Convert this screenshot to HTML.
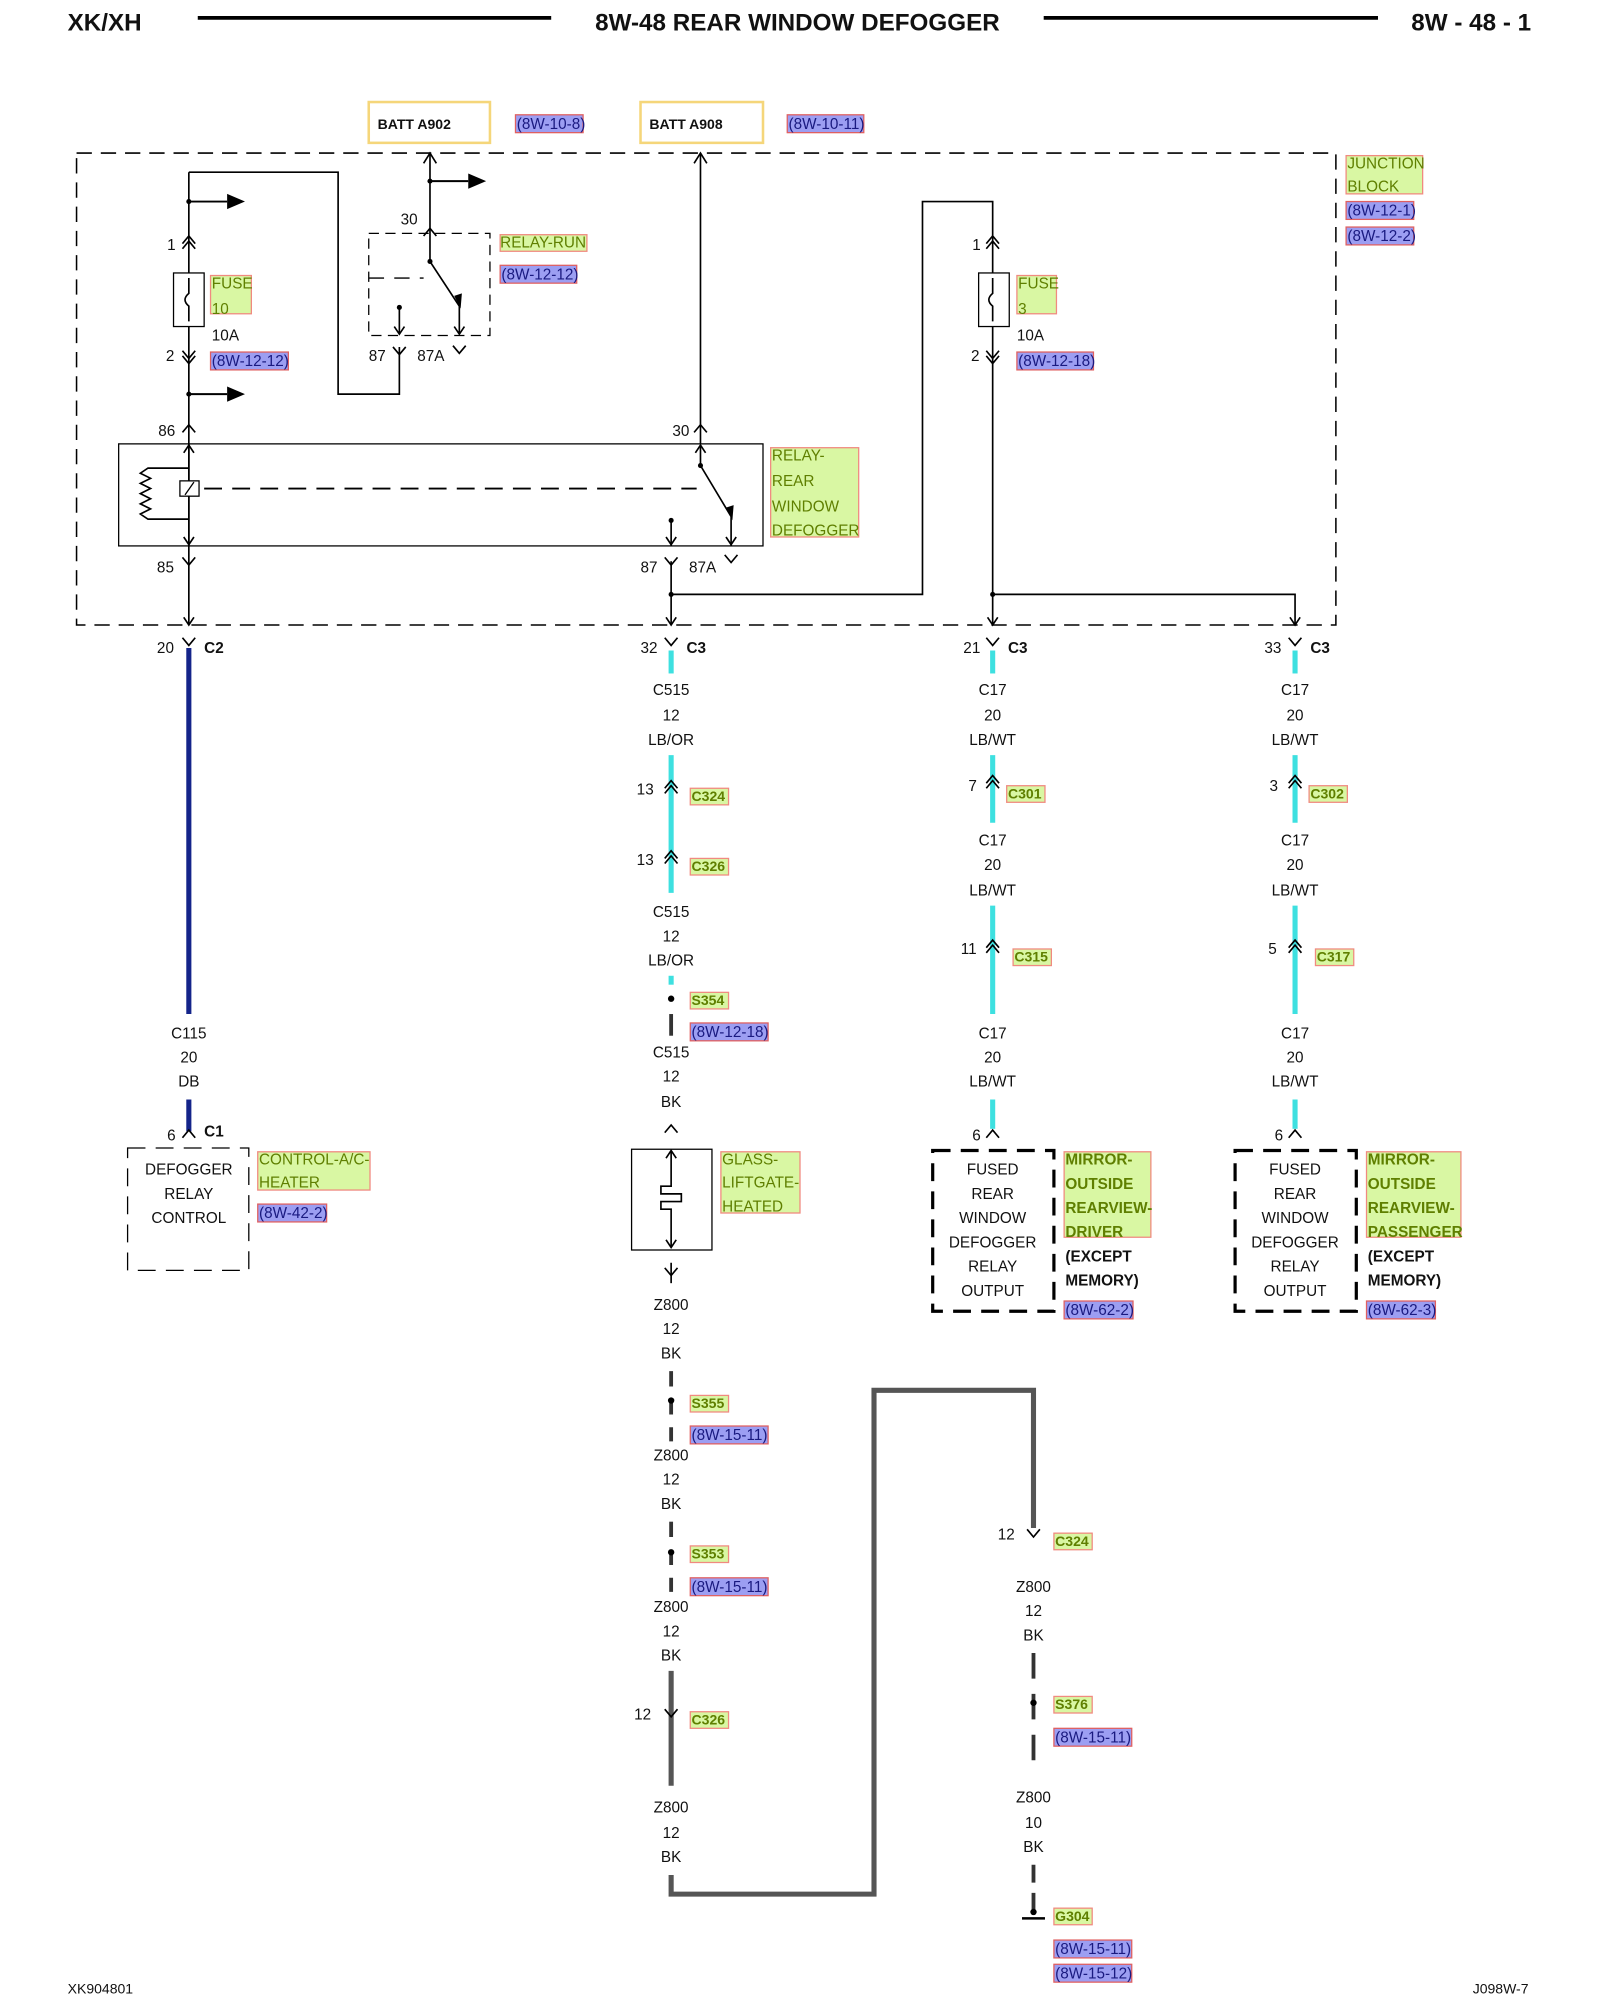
<!DOCTYPE html>
<html><head><meta charset="utf-8"><style>
html,body{margin:0;padding:0;background:#fff}
svg{display:block}
text{font-family:"Liberation Sans",sans-serif;font-size:12px;fill:#111}
.b{font-weight:bold}
.g{fill:#d9f7a3;stroke:#f08a80;stroke-width:1}
.gt{fill:#5f7f00;font-size:12px}
.r{fill:#9c9ef2;stroke:#e06060;stroke-width:1}
.rt{fill:#1a1a80;font-size:12px}
.w{stroke:#000;stroke-width:1.3;fill:none}
.cy{stroke:#3ee0e0;stroke-width:4;fill:none}
.gr{stroke:#555;stroke-width:4;fill:none}
</style></head><body>
<svg width="1600" height="2000" viewBox="0 0 1254 1568" preserveAspectRatio="none" xmlns="http://www.w3.org/2000/svg">
<defs>
<g id="up"><path d="M-5,6 L0,0 L5,6" class="w"/></g>
<g id="dn"><path d="M-5,-6 L0,0 L5,-6" class="w"/></g>
<g id="up2"><path d="M-5,6 L0,0 L5,6 M-5,10 L0,4 L5,10" class="w"/></g>
<g id="dn2"><path d="M-5,-6 L0,0 L5,-6 M-5,-10 L0,-4 L5,-10" class="w"/></g>
<g id="arr"><line x1="0" y1="0" x2="30" y2="0" stroke="#000" stroke-width="1.5"/><path d="M30,-6 L44,0 L30,6 Z" fill="#000"/><circle r="2" fill="#000"/></g>
</defs>
<!-- header -->
<text x="53" y="24" class="b" style="font-size:19px">XK/XH</text>
<line x1="155" y1="14" x2="432" y2="14" stroke="#000" stroke-width="3"/>
<text x="625" y="24" class="b" text-anchor="middle" style="font-size:19px">8W-48 REAR WINDOW DEFOGGER</text>
<line x1="818" y1="14" x2="1080" y2="14" stroke="#000" stroke-width="3"/>
<text x="1200" y="24" class="b" text-anchor="end" style="font-size:19px">8W - 48 - 1</text>

<!-- batt boxes -->
<rect x="289" y="80" width="95" height="32" fill="#fff" stroke="#f5d67a" stroke-width="2"/>
<text x="296" y="101" class="b" style="font-size:11px">BATT A902</text>
<rect x="404" y="90" width="53" height="14" class="r"/><text x="405" y="101" class="rt">(8W-10-8)</text>
<rect x="502" y="80" width="96" height="32" fill="#fff" stroke="#f5d67a" stroke-width="2"/>
<text x="509" y="101" class="b" style="font-size:11px">BATT A908</text>
<rect x="617" y="90" width="60" height="14" class="r"/><text x="618" y="101" class="rt">(8W-10-11)</text>

<!-- junction block -->
<rect x="60" y="120" width="987" height="370" fill="none" stroke="#000" stroke-width="1.2" stroke-dasharray="12,7"/>
<rect x="1055" y="122" width="60" height="30" class="g"/>
<text x="1056" y="132" class="gt">JUNCTION</text><text x="1056" y="150" class="gt">BLOCK</text>
<rect x="1055" y="158" width="53" height="14" class="r"/><text x="1056" y="169" class="rt">(8W-12-1)</text>
<rect x="1055" y="178" width="53" height="14" class="r"/><text x="1056" y="189" class="rt">(8W-12-2)</text>

<!-- left fuse 10 -->
<path d="M148,135 L265,135 L265,309 L313,309 L313,272" class="w" stroke-width="2"/>
<line x1="148" y1="135" x2="148" y2="490" class="w"/>
<use href="#arr" x="148" y="158"/>
<use href="#up2" x="148" y="185"/><text x="131" y="196">1</text>
<rect x="136" y="214" width="24" height="42" fill="#fff" stroke="#000"/>
<path d="M148,218 L148,230 Q142,235 148,240 L148,252" class="w"/>
<rect x="165" y="216" width="32" height="30" class="g"/><text x="166" y="226" class="gt">FUSE</text><text x="166" y="246" class="gt">10</text>
<text x="166" y="267">10A</text>
<use href="#dn2" x="148" y="285"/><text x="130" y="283">2</text>
<rect x="165" y="276" width="61" height="14" class="r"/><text x="166" y="287" class="rt">(8W-12-12)</text>
<use href="#arr" x="148" y="309"/>
<use href="#up" x="148" y="333"/><text x="124" y="342">86</text>

<!-- relay run -->
<line x1="337" y1="120" x2="337" y2="183" class="w"/>
<path d="M332,128 L337,120 L342,128" class="w"/>
<use href="#arr" x="337" y="142"/>
<use href="#up" x="337" y="179"/><text x="314" y="176">30</text>
<rect x="289" y="183" width="95" height="80" fill="none" stroke="#000" stroke-dasharray="8,5"/>
<path d="M337,183 L337,205 L360,240 L360,262" class="w"/><circle cx="337" cy="205" r="2"/>
<path d="M356,232 L361,242 L362,230 Z" fill="#000"/>
<line x1="289" y1="218" x2="332" y2="218" stroke="#000" stroke-dasharray="12,8"/>
<line x1="313" y1="241" x2="313" y2="262" class="w"/><circle cx="313" cy="241" r="2"/>
<path d="M309,256 L313,262 L317,256" class="w"/><path d="M356,256 L360,262 L364,256" class="w"/>
<use href="#dn" x="313" y="278"/><text x="289" y="283">87</text>
<use href="#dn" x="360" y="277"/><text x="327" y="283">87A</text>
<rect x="392" y="184" width="68" height="13" class="g"/><text x="392" y="194" class="gt">RELAY-RUN</text>
<rect x="392" y="208" width="60" height="14" class="r"/><text x="393" y="219" class="rt">(8W-12-12)</text>

<!-- A908 line -->
<line x1="549" y1="120" x2="549" y2="348" class="w"/>
<path d="M544,128 L549,120 L554,128" class="w"/>
<use href="#up" x="549" y="333"/><text x="527" y="342">30</text>

<!-- relay rear window -->
<rect x="93" y="348" width="505" height="80" fill="none" stroke="#000"/>
<path d="M148,348 L148,428" class="w"/>
<path d="M144,355 L148,349 L152,355 M144,421 L148,427 L152,421" class="w"/>
<path d="M148,367 L116,367 L110,371 L118,375 L110,379 L118,383 L110,387 L118,391 L110,395 L118,399 L110,403 L116,407 L148,407" class="w" stroke-width="1.5"/>
<rect x="141" y="377" width="15" height="12" fill="#fff" stroke="#000"/><line x1="145" y1="388" x2="152" y2="378" stroke="#000"/>
<line x1="160" y1="383" x2="546" y2="383" stroke="#000" stroke-width="1.5" stroke-dasharray="14,8"/>
<path d="M549,349 L549,365 L573,405 L573,428" class="w"/><circle cx="549" cy="365" r="2"/>
<path d="M569,398 L574,408 L575,396 Z" fill="#000"/>
<path d="M545,355 L549,349 L553,355 M569,421 L573,427 L577,421" class="w"/>
<line x1="526" y1="408" x2="526" y2="428" class="w"/><circle cx="526" cy="408" r="2"/>
<path d="M522,421 L526,427 L530,421" class="w"/>
<rect x="604" y="351" width="69" height="70" class="g"/>
<text x="605" y="361" class="gt">RELAY-</text><text x="605" y="381" class="gt">REAR</text><text x="605" y="401" class="gt">WINDOW</text><text x="605" y="420" class="gt">DEFOGGER</text>
<use href="#dn" x="148" y="443"/><text x="123" y="449">85</text>
<use href="#dn" x="526" y="443"/><text x="502" y="449">87</text>
<use href="#dn" x="573" y="441"/><text x="540" y="449">87A</text>
<line x1="526" y1="440" x2="526" y2="490" class="w"/>
<path d="M526,466 L723,466 L723,158 L778,158 L778,490" class="w" stroke-width="1.8"/>
<circle cx="526" cy="466" r="2"/>

<!-- fuse 3 -->
<use href="#up2" x="778" y="185"/><text x="762" y="196">1</text>
<rect x="767" y="214" width="24" height="42" fill="#fff" stroke="#000"/>
<path d="M778,218 L778,230 Q772,235 778,240 L778,252" class="w"/>
<rect x="797" y="216" width="31" height="30" class="g"/><text x="798" y="226" class="gt">FUSE</text><text x="798" y="246" class="gt">3</text>
<text x="797" y="267">10A</text>
<use href="#dn2" x="778" y="285"/><text x="761" y="283">2</text>
<rect x="797" y="276" width="60" height="14" class="r"/><text x="798" y="287" class="rt">(8W-12-18)</text>
<path d="M778,466 L1015,466 L1015,490" class="w" stroke-width="1.5"/><circle cx="778" cy="466" r="2"/>
<path d="M144,484 L148,490 L152,484 M522,484 L526,490 L530,484 M774,484 L778,490 L782,484 M1011,484 L1015,490 L1019,484" class="w"/>

<!-- C2/C3 connectors -->
<use href="#dn" x="148" y="506"/><text x="123" y="512">20</text><text x="160" y="512" class="b">C2</text>
<use href="#dn" x="526" y="506"/><text x="502" y="512">32</text><text x="538" y="512" class="b">C3</text>
<use href="#dn" x="778" y="506"/><text x="755" y="512">21</text><text x="790" y="512" class="b">C3</text>
<use href="#dn" x="1015" y="506"/><text x="991" y="512">33</text><text x="1027" y="512" class="b">C3</text>

<!-- left column -->
<line x1="148" y1="508" x2="148" y2="795" stroke="#14248a" stroke-width="4"/>
<text x="148" y="814" text-anchor="middle">C115</text><text x="148" y="833" text-anchor="middle">20</text><text x="148" y="852" text-anchor="middle">DB</text>
<line x1="148" y1="862" x2="148" y2="887" stroke="#14248a" stroke-width="4"/>
<use href="#up" x="148" y="886"/><text x="131" y="894">6</text><text x="160" y="891" class="b">C1</text>
<rect x="100" y="900" width="95" height="96" fill="none" stroke="#000" stroke-dasharray="14,8"/>
<text x="148" y="921" text-anchor="middle">DEFOGGER</text><text x="148" y="940" text-anchor="middle">RELAY</text><text x="148" y="959" text-anchor="middle">CONTROL</text>
<rect x="202" y="903" width="88" height="30" class="g"/><text x="203" y="913" class="gt">CONTROL-A/C-</text><text x="203" y="931" class="gt">HEATER</text>
<rect x="202" y="944" width="54" height="14" class="r"/><text x="203" y="955" class="rt">(8W-42-2)</text>

<!-- column 526 -->
<line x1="526" y1="510" x2="526" y2="528" class="cy"/>
<text x="526" y="545" text-anchor="middle">C515</text><text x="526" y="565" text-anchor="middle">12</text><text x="526" y="584" text-anchor="middle">LB/OR</text>
<line x1="526" y1="592" x2="526" y2="700" class="cy"/>
<use href="#up2" x="526" y="612"/><text x="499" y="623">13</text><rect x="541" y="618" width="30" height="13" class="g"/><text x="542" y="628" class="gt b" style="font-size:11px">C324</text>
<use href="#up2" x="526" y="667"/><text x="499" y="678">13</text><rect x="541" y="673" width="30" height="13" class="g"/><text x="542" y="683" class="gt b" style="font-size:11px">C326</text>
<text x="526" y="719" text-anchor="middle">C515</text><text x="526" y="738" text-anchor="middle">12</text><text x="526" y="757" text-anchor="middle">LB/OR</text>
<line x1="526" y1="765" x2="526" y2="772" class="cy"/>
<line x1="526" y1="795" x2="526" y2="812" stroke="#333" stroke-width="3"/>
<circle cx="526" cy="783" r="2.5"/>
<rect x="541" y="778" width="30" height="13" class="g"/><text x="542" y="788" class="gt b" style="font-size:11px">S354</text>
<rect x="541" y="802" width="61" height="14" class="r"/><text x="542" y="813" class="rt">(8W-12-18)</text>
<text x="526" y="829" text-anchor="middle">C515</text><text x="526" y="848" text-anchor="middle">12</text><text x="526" y="868" text-anchor="middle">BK</text>
<use href="#up" x="526" y="882"/>
<rect x="495" y="901" width="63" height="79" fill="none" stroke="#000"/>
<path d="M526,903 L526,930 L518,930 L518,936 L534,936 L534,942 L518,942 L518,948 L526,948 L526,978" class="w"/>
<path d="M522,908 L526,902 L530,908 M522,972 L526,978 L530,972" class="w"/>
<rect x="565" y="903" width="62" height="48" class="g"/><text x="566" y="913" class="gt">GLASS-</text><text x="566" y="931" class="gt">LIFTGATE-</text><text x="566" y="950" class="gt">HEATED</text>
<use href="#dn" x="526" y="1000"/><line x1="526" y1="990" x2="526" y2="1006" class="w"/>
<text x="526" y="1027" text-anchor="middle">Z800</text><text x="526" y="1046" text-anchor="middle">12</text><text x="526" y="1065" text-anchor="middle">BK</text>
<line x1="526" y1="1075" x2="526" y2="1130" stroke="#333" stroke-width="3" stroke-dasharray="12,10"/>
<circle cx="526" cy="1098" r="2.5"/>
<rect x="541" y="1094" width="30" height="13" class="g"/><text x="542" y="1104" class="gt b" style="font-size:11px">S355</text>
<rect x="541" y="1118" width="61" height="14" class="r"/><text x="542" y="1129" class="rt">(8W-15-11)</text>
<text x="526" y="1145" text-anchor="middle">Z800</text><text x="526" y="1164" text-anchor="middle">12</text><text x="526" y="1183" text-anchor="middle">BK</text>
<line x1="526" y1="1193" x2="526" y2="1248" stroke="#333" stroke-width="3" stroke-dasharray="12,10"/>
<circle cx="526" cy="1217" r="2.5"/>
<rect x="541" y="1212" width="30" height="13" class="g"/><text x="542" y="1222" class="gt b" style="font-size:11px">S353</text>
<rect x="541" y="1237" width="61" height="14" class="r"/><text x="542" y="1248" class="rt">(8W-15-11)</text>
<text x="526" y="1264" text-anchor="middle">Z800</text><text x="526" y="1283" text-anchor="middle">12</text><text x="526" y="1302" text-anchor="middle">BK</text>
<line x1="526" y1="1310" x2="526" y2="1400" class="gr"/>
<use href="#dn" x="526" y="1346"/><text x="497" y="1348">12</text>
<rect x="541" y="1342" width="30" height="13" class="g"/><text x="542" y="1352" class="gt b" style="font-size:11px">C326</text>
<text x="526" y="1421" text-anchor="middle">Z800</text><text x="526" y="1441" text-anchor="middle">12</text><text x="526" y="1460" text-anchor="middle">BK</text>
<path d="M526,1470 L526,1485 L685,1485 L685,1090 L810,1090 L810,1198" class="gr"/>
<use href="#dn" x="810" y="1205"/><text x="782" y="1207">12</text>
<rect x="826" y="1202" width="30" height="13" class="g"/><text x="827" y="1212" class="gt b" style="font-size:11px">C324</text>
<text x="810" y="1248" text-anchor="middle">Z800</text><text x="810" y="1267" text-anchor="middle">12</text><text x="810" y="1286" text-anchor="middle">BK</text>
<line x1="810" y1="1296" x2="810" y2="1390" stroke="#333" stroke-width="3" stroke-dasharray="20,12"/>
<circle cx="810" cy="1335" r="2.5"/>
<rect x="826" y="1330" width="30" height="13" class="g"/><text x="827" y="1340" class="gt b" style="font-size:11px">S376</text>
<rect x="826" y="1355" width="61" height="14" class="r"/><text x="827" y="1366" class="rt">(8W-15-11)</text>
<text x="810" y="1413" text-anchor="middle">Z800</text><text x="810" y="1433" text-anchor="middle">10</text><text x="810" y="1452" text-anchor="middle">BK</text>
<line x1="810" y1="1462" x2="810" y2="1500" stroke="#333" stroke-width="3" stroke-dasharray="14,8"/>
<line x1="801" y1="1504" x2="819" y2="1504" stroke="#000" stroke-width="2"/><circle cx="810" cy="1499" r="2.5"/>
<rect x="826" y="1496" width="30" height="13" class="g"/><text x="827" y="1506" class="gt b" style="font-size:11px">G304</text>
<rect x="826" y="1521" width="61" height="14" class="r"/><text x="827" y="1532" class="rt">(8W-15-11)</text>
<rect x="826" y="1540" width="61" height="14" class="r"/><text x="827" y="1551" class="rt">(8W-15-12)</text>

<!-- column 778 -->
<line x1="778" y1="510" x2="778" y2="528" class="cy"/>
<text x="778" y="545" text-anchor="middle">C17</text><text x="778" y="565" text-anchor="middle">20</text><text x="778" y="584" text-anchor="middle">LB/WT</text>
<line x1="778" y1="592" x2="778" y2="645" class="cy"/>
<use href="#up2" x="778" y="608"/><text x="759" y="620">7</text><rect x="789" y="616" width="30" height="13" class="g"/><text x="790" y="626" class="gt b" style="font-size:11px">C301</text>
<text x="778" y="663" text-anchor="middle">C17</text><text x="778" y="682" text-anchor="middle">20</text><text x="778" y="702" text-anchor="middle">LB/WT</text>
<line x1="778" y1="710" x2="778" y2="795" class="cy"/>
<use href="#up2" x="778" y="737"/><text x="753" y="748">11</text><rect x="794" y="744" width="30" height="13" class="g"/><text x="795" y="754" class="gt b" style="font-size:11px">C315</text>
<text x="778" y="814" text-anchor="middle">C17</text><text x="778" y="833" text-anchor="middle">20</text><text x="778" y="852" text-anchor="middle">LB/WT</text>
<line x1="778" y1="862" x2="778" y2="885" class="cy"/>
<use href="#up" x="778" y="886"/><text x="762" y="894">6</text>
<rect x="731" y="902" width="95" height="126" fill="none" stroke="#000" stroke-width="2.5" stroke-dasharray="14,8"/>
<text x="778" y="921" text-anchor="middle">FUSED</text><text x="778" y="940" text-anchor="middle">REAR</text><text x="778" y="959" text-anchor="middle">WINDOW</text><text x="778" y="978" text-anchor="middle">DEFOGGER</text><text x="778" y="997" text-anchor="middle">RELAY</text><text x="778" y="1016" text-anchor="middle">OUTPUT</text>
<rect x="834" y="903" width="68" height="67" class="g"/>
<text x="835" y="913" class="gt b">MIRROR-</text><text x="835" y="932" class="gt b">OUTSIDE</text><text x="835" y="951" class="gt b">REARVIEW-</text><text x="835" y="970" class="gt b">DRIVER</text>
<text x="835" y="989" class="b">(EXCEPT</text><text x="835" y="1008" class="b">MEMORY)</text>
<rect x="834" y="1020" width="54" height="14" class="r"/><text x="835" y="1031" class="rt">(8W-62-2)</text>

<!-- column 1015 -->
<line x1="1015" y1="510" x2="1015" y2="528" class="cy"/>
<text x="1015" y="545" text-anchor="middle">C17</text><text x="1015" y="565" text-anchor="middle">20</text><text x="1015" y="584" text-anchor="middle">LB/WT</text>
<line x1="1015" y1="592" x2="1015" y2="645" class="cy"/>
<use href="#up2" x="1015" y="608"/><text x="995" y="620">3</text><rect x="1026" y="616" width="30" height="13" class="g"/><text x="1027" y="626" class="gt b" style="font-size:11px">C302</text>
<text x="1015" y="663" text-anchor="middle">C17</text><text x="1015" y="682" text-anchor="middle">20</text><text x="1015" y="702" text-anchor="middle">LB/WT</text>
<line x1="1015" y1="710" x2="1015" y2="795" class="cy"/>
<use href="#up2" x="1015" y="737"/><text x="994" y="748">5</text><rect x="1031" y="744" width="30" height="13" class="g"/><text x="1032" y="754" class="gt b" style="font-size:11px">C317</text>
<text x="1015" y="814" text-anchor="middle">C17</text><text x="1015" y="833" text-anchor="middle">20</text><text x="1015" y="852" text-anchor="middle">LB/WT</text>
<line x1="1015" y1="862" x2="1015" y2="885" class="cy"/>
<use href="#up" x="1015" y="886"/><text x="999" y="894">6</text>
<rect x="968" y="902" width="95" height="126" fill="none" stroke="#000" stroke-width="2.5" stroke-dasharray="14,8"/>
<text x="1015" y="921" text-anchor="middle">FUSED</text><text x="1015" y="940" text-anchor="middle">REAR</text><text x="1015" y="959" text-anchor="middle">WINDOW</text><text x="1015" y="978" text-anchor="middle">DEFOGGER</text><text x="1015" y="997" text-anchor="middle">RELAY</text><text x="1015" y="1016" text-anchor="middle">OUTPUT</text>
<rect x="1071" y="903" width="74" height="67" class="g"/>
<text x="1072" y="913" class="gt b">MIRROR-</text><text x="1072" y="932" class="gt b">OUTSIDE</text><text x="1072" y="951" class="gt b">REARVIEW-</text><text x="1072" y="970" class="gt b">PASSENGER</text>
<text x="1072" y="989" class="b">(EXCEPT</text><text x="1072" y="1008" class="b">MEMORY)</text>
<rect x="1071" y="1020" width="54" height="14" class="r"/><text x="1072" y="1031" class="rt">(8W-62-3)</text>

<!-- footer -->
<text x="53" y="1563" style="font-size:11px">XK904801</text>
<text x="1198" y="1563" text-anchor="end" style="font-size:11px">J098W-7</text>
</svg>
</body></html>
